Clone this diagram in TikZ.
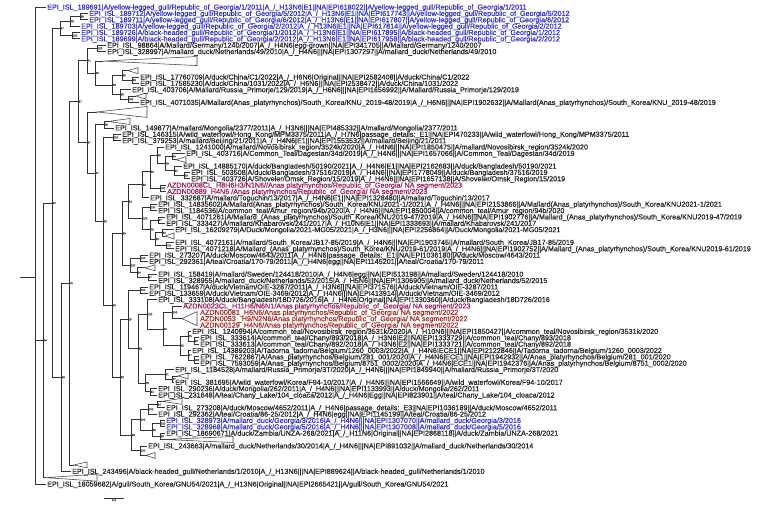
\documentclass[tikz,border=0pt]{standalone}
\usepackage{fontspec}
\newfontfamily\treefont[FakeBold=0.6]{Liberation Sans}
\usepackage{xcolor}
\usetikzlibrary{calc}
\definecolor{gblue}{RGB}{52,52,200}
\definecolor{azmag}{RGB}{160,30,90}
\definecolor{azred}{RGB}{168,44,40}

\begin{document}
\begin{tikzpicture}[x=1pt, y=-6.36pt,
	br/.style={draw=black!80, line width=0.65pt},
	tri/.style={draw=black!75, line width=0.55pt, fill=white},
	leaf/.style={anchor=west, inner xsep=1pt, inner ysep=0pt, text height=5.1pt, text depth=0pt, font=\treefont\fontsize{7.2}{7.2}\selectfont, text=black!85},
	bs/.style={font=\treefont\fontsize{2.8}{3}\selectfont, text=black!70, inner sep=0.4pt}]
	
	\useasboundingbox (0pt,7pt) rectangle (767pt,-499pt);
	
	% Noeuds internes
	\coordinate (stub) at (20,42.47);
	\coordinate (root) at (35,42.47);
	\coordinate[label={[bs]0:24}] (n24) at (43,52.4);
	\coordinate[label={[bs]0:42}] (n42) at (52,30.8);
	\coordinate[label={[bs]0:97}] (nG) at (60,3.375);
	\coordinate[label={[bs]0:79}] (nG1) at (70,2.25);
	\coordinate[label={[bs]0:99}] (nG11) at (80,1.5);
	\coordinate[label={[bs]0:100}] (nG2) at (72,4.5);
	\coordinate[label={[bs]0:33}] (n33) at (61,58.22);
	\coordinate[label={[bs]0:79}] (n79) at (69,43.43);
	\coordinate[label={[bs]0:87}] (n87) at (78,14.87);
	\coordinate[label={[bs]0:71}] (nA) at (87,8.44);
	\coordinate[label={[bs]0:100}] (n100a) at (97,6.5);
	\coordinate[label={[bs]0:90}] (n90) at (95,10.375);
	\coordinate[label={[bs]0:96}] (n96) at (112,12.25);
	\coordinate[label={[bs]0:99}] (n99) at (122,10.75);
	\coordinate[label={[bs]0:96}] (n96b) at (132,11.5);
	\coordinate[label={[bs]0:96}] (n61) at (120,13.75);
	\coordinate[label={[bs]0:100}] (n100b) at (128,14.5);
	\coordinate[label={[bs]0:87}] (nb) at (87,21.3);
	\coordinate[label={[bs]0:97}] (nc) at (95,26.1);
	\coordinate[label={[bs]0:99}] (n99c) at (104,18.5);
	\coordinate[label={[bs]0:93}] (nd) at (103,33.71);
	\coordinate[label={[bs]0:100}] (nC) at (113,20.5);
	\coordinate[label={[bs]0:45}] (nE) at (112,46.91);
	\coordinate[label={[bs]0:99}] (D) at (122,35.61);
	\coordinate[label={[bs]0:90}] (D1) at (128,30.6);
	\coordinate[label={[bs]0:93}] (D2) at (142,27.95);
	\coordinate[label={[bs]0:96}] (n96c) at (150,25.91);
	\coordinate[label={[bs]0:96}] (n96d) at (157,23.31);
	\coordinate[label={[bs]0:76}] (n76) at (165,24.63);
	\coordinate[label={[bs]0:99}] (n59) at (172,23.5);
	\coordinate[label={[bs]0:62}] (n62) at (174,25.75);
	\coordinate[label={[bs]0:63}] (n63) at (184,26.5);
	\coordinate[label={[bs]0:100}] (nAZa) at (160,28.5);
	\coordinate[label={[bs]0:100}] (D3) at (142,33.25);
	\coordinate[label={[bs]0:100}] (D3a) at (150,31.5);
	\coordinate[label={[bs]0:79}] (D4) at (150,35);
	\coordinate[label={[bs]0:97}] (n97) at (158,33.5);
	\coordinate[label={[bs]0:93}] (D5) at (155,36.5);
	\coordinate[label={[bs]0:94}] (D6) at (162,35.5);
	\coordinate[label={[bs]0:100}] (D7) at (166,37.5);
	\coordinate[label={[bs]0:100}] (E) at (130,40.63);
	\coordinate[label={[bs]0:100}] (nE1) at (140,39.5);
	\coordinate[label={[bs]0:94}] (nE2) at (137,41.75);
	\coordinate[label={[bs]0:97}] (nE3) at (148,42.5);
	\coordinate[label={[bs]0:92}] (nF) at (120,58.21);
	\coordinate[label={[bs]0:15}] (G2) at (128,49.11);
	\coordinate[label={[bs]0:100}] (F) at (140,44.5);
	\coordinate[label={[bs]0:93}] (G3) at (138,53.72);
	\coordinate[label={[bs]0:100}] (X100) at (147,48.31);
	\coordinate[label={[bs]0:94}] (n94) at (163,50.63);
	\coordinate[label={[bs]0:100}] (nAZ) at (172,48);
	\coordinate[label={[bs]0:45}] (n45) at (180,53.25);
	\coordinate[label={[bs]0:75}] (n75) at (188,51.75);
	\coordinate[label={[bs]0:60}] (n43) at (194,52.5);
	\coordinate[label={[bs]0:97}] (n45b) at (188,54.75);
	\coordinate[label={[bs]0:100}] (n46) at (194,55.5);
	\coordinate[label={[bs]0:79}] (G5) at (145,59.13);
	\coordinate[label={[bs]0:51}] (n79b) at (165,57.75);
	\coordinate[label={[bs]0:17}] (n17) at (172,58.5);
	\coordinate[label={[bs]0:84}] (nH) at (150,60.5);
	\coordinate[label={[bs]0:83}] (nK) at (131,67.31);
	\coordinate[label={[bs]0:100}] (nI) at (140,64.88);
	\coordinate[label={[bs]0:100}] (nI1) at (148,63.25);
	\coordinate[label={[bs]0:94}] (n94i) at (157,62.5);
	\coordinate[label={[bs]0:96}] (nI2) at (152,66.5);
	\coordinate[label={[bs]0:100}] (nI2a) at (160,65.5);
	\coordinate[label={[bs]0:96}] (n56) at (160,67.5);
	\coordinate[label={[bs]0:100}] (nJ) at (140,69.75);
	
	% Clades replies
	\foreach \nm/\ax/\k/\rx/\h in {T1/103/8.5/197/4.5, T2/128/10/138/3, T3/136/14/146/3,
		T4/97/16.5/147/5.5, T5/108/18/130/3, T17/176/24/186/3, T28/165/36/174/3,
		T31/145/41/155/3, TAZ/182/49/197/7, T48/178/58/188/3, T51/162/62/182/3,
		T56/164/68/233/3, T57/146/70.5/155/3, Tq/74/72/87/3, Tg/46/74/97/3.5} {
		\coordinate (\nm) at (\ax,\k);
		\draw[tri] (\nm) -- ([yshift=\h pt]\rx,\k) -- ([yshift=-\h pt]\rx,\k) -- cycle;
	}
	
	% Feuilles
	\node[leaf, text=gblue] (l1) at (46,0) {EPI\_ISL\_189691|A/yellow-legged\_gull/Republic\_of\_Georgia/1/2011|A\_/\_H13N6|E1||NA|EPI618022||A/yellow-legged\_gull/Republic\_of\_Georgia/1/2011};
	\node[leaf, text=gblue] (l2) at (88,1) {EPI\_ISL\_189712|A/yellow-legged\_gull/Republic\_of\_Georgia/5/2012|A\_/\_H13N6|E1||NA|EPI617743||A/yellow-legged\_gull/Republic\_of\_Georgia/5/2012};
	\node[leaf, text=gblue] (l3) at (88,2) {EPI\_ISL\_189711|A/yellow-legged\_gull/Republic\_of\_Georgia/6/2012|A\_/\_H13N6|E1||NA|EPI617807||A/yellow-legged\_gull/Republic\_of\_Georgia/6/2012};
	\node[leaf, text=gblue] (l4) at (80,3) {EPI\_ISL\_189703|A/yellow-legged\_gull/Republic\_of\_Georgia/2/2012|A\_/\_H13N6|E1||NA|EPI617814||A/yellow-legged\_gull/Republic\_of\_Georgia/2/2012};
	\node[leaf, text=gblue] (l5) at (80,4) {EPI\_ISL\_189726|A/black-headed\_gull/Republic\_of\_Georgia/1/2012|A\_/\_H13N6|E1||NA|EPI617895||A/black-headed\_gull/Republic\_of\_Georgia/1/2012};
	\node[leaf, text=gblue] (l6) at (80,5) {EPI\_ISL\_189699|A/black-headed\_gull/Republic\_of\_Georgia/2/2012|A\_/\_H13N6|E1||NA|EPI617958||A/black-headed\_gull/Republic\_of\_Georgia/2/2012};
	\node[leaf] (l7) at (106,6) {EPI\_ISL\_98864|A/Mallard/Germany/1240/2007|A\_/\_H4N6|egg-grown||NA|EPI341705||A/Mallard/Germany/1240/2007};
	\node[leaf] (l8) at (106,7) {EPI\_ISL\_328997|A/mallard\_duck/Netherlands/49/2010|A\_/\_H4N6|||NA|EPI1307297||A/mallard\_duck/Netherlands/49/2010};
	\node[leaf] (l9) at (139,11) {EPI\_ISL\_17760709|A/duck/China/C1/2022|A\_/\_H6N6|Original||NA|EPI2582408||A/duck/China/C1/2022};
	\node[leaf] (l10) at (139,12) {EPI\_ISL\_17585230|A/duck/China/1031/2022|A\_/\_H6N6|||NA|EPI2538472||A/duck/China/1031/2022};
	\node[leaf] (l11) at (131,13) {EPI\_ISL\_403706|A/Mallard/Russia\_Primorje/129/2019|A\_/\_H6N6|||NA|EPI1656992||A/Mallard/Russia\_Primorje/129/2019};
	\node[leaf] (l12) at (139,15) {EPI\_ISL\_4071035|A/Mallard(Anas\_platyrhynchos)/South\_Korea/KNU\_2019-48/2019|A\_/\_H6N6|||NA|EPI1902632||A/Mallard(Anas\_platyrhynchos)/South\_Korea/KNU\_2019-48/2019};
	\node[leaf] (l13) at (114,19) {EPI\_ISL\_149877|A/mallard/Mongolia/2377/2011|A\_/\_H3N6|||NA|EPI485332||A/mallard/Mongolia/2377/2011};
	\node[leaf] (l14) at (121,20) {EPI\_ISL\_146315|A/wild\_waterfowl/Hong\_Kong/MPM3375/2011|A\_/\_H7N6|passage\_details:\_E1||NA|EPI470233||A/wild\_waterfowl/Hong\_Kong/MPM3375/2011};
	\node[leaf] (l15) at (121,21) {EPI\_ISL\_379253|A/mallard/Beijing/21/2011|A\_/\_H4N6|E1||NA|EPI1553532||A/mallard/Beijing/21/2011};
	\node[leaf] (l16) at (164,22) {EPI\_ISL\_1241000|A/mallard/Novosibirsk\_region/3524k/2020|A\_/\_H4N6|||NA|EPI1850475||A/mallard/Novosibirsk\_region/3524k/2020};
	\node[leaf] (l17) at (185,23) {EPI\_ISL\_403716|A/Common\_Teal/Dagestan/34d/2019|A\_/\_H4N6|||NA|EPI1657066||A/Common\_Teal/Dagestan/34d/2019};
	\node[leaf] (l18) at (182,25) {EPI\_ISL\_14885170|A/duck/Bangladesh/50190/2021|A\_/\_H4N6|E1||NA|EPI2162683||A/duck/Bangladesh/50190/2021};
	\node[leaf] (l19) at (190,26) {EPI\_ISL\_503508|A/duck/Bangladesh/37516/2019|A\_/\_H4N6|||NA|EPI1778049||A/duck/Bangladesh/37516/2019};
	\node[leaf] (l20) at (190,27) {EPI\_ISL\_403726|A/Shoveler/Omsk\_Region/15/2019|A\_/\_H4N6|||NA|EPI1657138||A/Shoveler/Omsk\_Region/15/2019};
	\node[leaf, text=azmag] (l21) at (166,28) {AZDN0008CL\_H8H6H3/N1N6//Anas platyrhynchos/Republic\_of\_Georgia/ NA segment/2023};
	\node[leaf, text=azmag] (l22) at (166,29) {AZDN00889\_H4N6 /Anas platyrhynchos/Republic\_of\_Georgia/ NA segment/2023};
	\node[leaf] (l23) at (149,30) {EPI\_ISL\_332687|A/mallard/Toguchin/13/2017|A\_/\_H4N6|E1||NA|EPI1328480||A/mallard/Toguchin/13/2017};
	\node[leaf] (l24) at (157,31) {EPI\_ISL\_14835602|A/Mallard(Anas\_platyrhynchos)/South\_Korea/KNU2021-1/2021|A\_/\_H4N6|||NA|EPI2153866||A/Mallard(Anas\_platyrhynchos)/South\_Korea/KNU2021-1/2021};
	\node[leaf] (l25) at (157,32) {EPI\_ISL\_1184536|A/common\_teal/Amur\_region/94b/2020|A\_/\_H4N6|||NA|EPI1850004||A/common\_teal/Amur\_region/94b/2020};
	\node[leaf] (l26) at (165,33) {EPI\_ISL\_4071261|A/Mallard\_(Anas\_platyrhynchos)/South\_Korea/KNU2019-47/2019|A\_/\_H4N6|||NA|EPI1902776||A/Mallard\_(Anas\_platyrhynchos)/South\_Korea/KNU2019-47/2019};
	\node[leaf] (l27) at (165,34) {EPI\_ISL\_333427|A/mallard/Khabarovsk/241/2017|A\_/\_H10N6|E1||NA|EPI1333693||A/mallard/Khabarovsk/241/2017};
	\node[leaf] (l28) at (174,35) {EPI\_ISL\_16209279|A/Duck/Mongolia/2021-MG05/2021|A\_/\_H3N6|||NA|EPI2256864||A/Duck/Mongolia/2021-MG05/2021};
	\node[leaf] (l29) at (174,37) {EPI\_ISL\_4072161|A/mallard/South\_Korea/JB17-85/2019|A\_/\_H4N6|||NA|EPI1903745||A/mallard/South\_Korea/JB17-85/2019};
	\node[leaf] (l30) at (174,38) {EPI\_ISL\_4071218|A/Mallard\_(Anas\_platyrhynchos)/South\_Korea/KNU2019-61/2019|A\_/\_H4N6|||NA|EPI1902752||A/Mallard\_(Anas\_platyrhynchos)/South\_Korea/KNU2019-61/2019};
	\node[leaf] (l31) at (148,39) {EPI\_ISL\_273207|A/duck/Moscow/4643/2011|A\_/\_H4N6|passage\_details:\_E1||NA|EPI1036180||A/duck/Moscow/4643/2011};
	\node[leaf] (l32) at (148,40) {EPI\_ISL\_292361|A/teal/Croatia/170-79/2011|A\_/\_H4N6|egg||NA|EPI1145201||A/teal/Croatia/170-79/2011};
	\node[leaf] (l33) at (157,42) {EPI\_ISL\_158419|A/mallard/Sweden/124418/2010|A\_/\_H4N6|egg||NA|EPI513198||A/mallard/Sweden/124418/2010};
	\node[leaf] (l34) at (157,43) {EPI\_ISL\_328955|A/mallard\_duck/Netherlands/52/2015|A\_/\_H5N6|||NA|EPI1306905||A/mallard\_duck/Netherlands/52/2015};
	\node[leaf] (l35) at (148,44) {EPI\_ISL\_119467|A/duck/Vietnam/OIE-3287/2011|A\_/\_H3N6|||NA|EPI371576||A/duck/Vietnam/OIE-3287/2011};
	\node[leaf] (l36) at (148,45) {EPI\_ISL\_133659|A/duck/Vietnam/OIE-3469/2012|A\_/\_H4N6|||NA|EPI413914||A/duck/Vietnam/OIE-3469/2012};
	\node[leaf] (l37) at (157,46) {EPI\_ISL\_333108|A/duck/Bangladesh/18D726/2016|A\_/\_H4N6|Original||NA|EPI1330360||A/duck/Bangladesh/18D726/2016};
	\node[leaf, text=azmag] (l38) at (182,47) {AZDN0023CL\_H11H6/N6N1/Anas platyrhynchos/Republic\_of\_Georgia/ NA segment/2023};
	\node[leaf, text=azred] (l39) at (199,48) {AZDN00081\_H6N6/Anas platyrhynchos/Republic\_of\_Georgia/ NA segment/2022};
	\node[leaf, text=azred] (l40) at (199,49) {AZDN0053 \_H9/N2N6/Anas platyrhynchos/Republic\_of\_Georgia/ NA segment/2022};
	\node[leaf, text=azred] (l41) at (199,50) {AZDN00129\_H4N6/Anas platyrhynchos/Republic\_of\_Georgia/ NA segment/2022};
	\node[leaf] (l42) at (191,51) {EPI\_ISL\_1240994|A/common\_teal/Novosibirsk\_region/3531k/2020|A\_/\_H10N6|||NA|EPI1850427||A/common\_teal/Novosibirsk\_region/3531k/2020};
	\node[leaf] (l43) at (199,52) {EPI\_ISL\_333614|A/common\_teal/Chany/893/2018|A\_/\_H3N6|E2||NA|EPI1333729||A/common\_teal/Chany/893/2018};
	\node[leaf] (l44) at (199,53) {EPI\_ISL\_333613|A/common\_teal/Chany/892/2018|A\_/\_H3N6|E2||NA|EPI1333721||A/common\_teal/Chany/892/2018};
	\node[leaf] (l45) at (191,54) {EPI\_ISL\_14389203|A/Tadorna\_tadorna/Belgium/1260\_0003/2022|A\_/\_H4N6|ECE1||NA|EPI2122846||A/Tadorna\_tadorna/Belgium/1260\_0003/2022};
	\node[leaf] (l46) at (199,55) {EPI\_ISL\_7622867|A/Anas\_platyrhynchos/Belgium/281\_001/2020|A\_/\_H4N6|ECE1||NA|EPI1942932||A/Anas\_platyrhynchos/Belgium/281\_001/2020};
	\node[leaf] (l47) at (199,56) {EPI\_ISL\_7593059|A/Anas\_platyrhynchos/Belgium/8751\_0002/2020|A\_/\_H4N6|ECE1||NA|EPI1942376||A/Anas\_platyrhynchos/Belgium/8751\_0002/2020};
	\node[leaf] (l48) at (174,57) {EPI\_ISL\_1184528|A/mallard/Russia\_Primorje/3T/2020|A\_/\_H4N6|||NA|EPI1849940||A/mallard/Russia\_Primorje/3T/2020};
	\node[leaf] (l49) at (174,59) {EPI\_ISL\_381695|A/wild\_waterfowl/Korea/F94-10/2017|A\_/\_H4N6|||NA|EPI1566649||A/wild\_waterfowl/Korea/F94-10/2017};
	\node[leaf] (l50) at (157,60) {EPI\_ISL\_290236|A/duck/Mongolia/262/2011|A\_/\_H4N6|||NA|EPI1133993||A/duck/Mongolia/262/2011};
	\node[leaf] (l51) at (157,61) {EPI\_ISL\_231648|A/teal/Chany\_Lake/104\_cloaca/2012|A\_/\_H4N6|Egg||NA|EPI823901||A/teal/Chany\_Lake/104\_cloaca/2012};
	\node[leaf] (l52) at (165,63) {EPI\_ISL\_273208|A/duck/Moscow/4652/2011|A\_/\_H4N6|passage\_details:\_E3||NA|EPI1036189||A/duck/Moscow/4652/2011};
	\node[leaf] (l53) at (157,64) {EPI\_ISL\_292362|A/teal/Croatia/86-25/2012|A\_/\_H4N6|egg||NA|EPI1145199||A/teal/Croatia/86-25/2012};
	\node[leaf, text=gblue] (l54) at (165,65) {EPI\_ISL\_328973|A/mallard\_duck/Georgia/3/2016|A\_/\_H4N6|||NA|EPI1307070||A/mallard\_duck/Georgia/3/2016};
	\node[leaf, text=gblue] (l55) at (165,66) {EPI\_ISL\_328968|A/mallard\_duck/Georgia/5/2016|A\_/\_H4N6|||NA|EPI1307008||A/mallard\_duck/Georgia/5/2016};
	\node[leaf] (l56) at (165,67) {EPI\_ISL\_18690671|A/duck/Zambia/UNZA-268/2021|A\_/\_H11N6|Original||NA|EPI2868118||A/duck/Zambia/UNZA-268/2021};
	\node[leaf] (l57) at (147,69) {EPI\_ISL\_243663|A/mallard\_duck/Netherlands/30/2014|A\_/\_H4N6|||NA|EPI891032||A/mallard\_duck/Netherlands/30/2014};
	\node[leaf] (l58) at (71,73) {EPI\_ISL\_243496|A/black-headed\_gull/Netherlands/1/2010|A\_/\_H13N6|||NA|EPI889624||A/black-headed\_gull/Netherlands/1/2010};
	\node[leaf] (l59) at (46,75) {EPI\_ISL\_18059682|A/gull/South\_Korea/GNU54/2021|A\_/\_H13N6|Original||NA|EPI2665421||A/gull/South\_Korea/GNU54/2021};
	
	% Branches
	\draw[br] (stub) -- (root);
	\draw[br] (root) |- (l1.west) (root) |- (n24) (root) |- (l59.west);
	\draw[br] (n24) |- (n42) (n24) |- (Tg) (n42) |- (nG) (n42) |- (n33);
	\draw[br] (nG) |- (nG1) (nG) |- (nG2) (nG1) |- (nG11) (nG1) |- (l4.west)
		(nG11) |- (l2.west) (nG11) |- (l3.west) (nG2) |- (l5.west) (nG2) |- (l6.west);
	\draw[br] (n33) |- (n79) (n33) |- (l58.west) (n79) |- (n87) (n79) |- (Tq);
	\draw[br] (n87) |- (nA) (n87) |- (nb);
	\draw[br] (nA) |- (n100a) (nA) |- (n90) (n100a) |- (l7.west) (n100a) |- (l8.west)
		(n90) |- (T1) (n90) |- (n96) (n96) |- (n99) (n96) |- (n61)
		(n99) |- (T2) (n99) |- (n96b) (n96b) |- (l9.west) (n96b) |- (l10.west)
		(n61) |- (l11.west) (n61) |- (n100b) (n100b) |- (T3) (n100b) |- (l12.west);
	\draw[br] (nb) |- (T4) (nb) |- (nc) (nc) |- (n99c) (nc) |- (nd)
		(n99c) |- (T5) (n99c) |- (l13.west) (nd) |- (nC) (nd) |- (nE)
		(nC) |- (l14.west) (nC) |- (l15.west);
	\draw[br] (nE) |- (D) (nE) |- (nF);
	\draw[br] (D) |- (D1) (D) |- (E) (D1) |- (D2) (D1) |- (D3)
		(D2) |- (n96c) (D2) |- (l23.west) (n96c) |- (n96d) (n96c) |- (nAZa)
		(n96d) |- (l16.west) (n96d) |- (n76) (n76) |- (n59) (n76) |- (n62)
		(n59) |- (l17.west) (n59) |- (T17) (n62) |- (l18.west) (n62) |- (n63)
		(n63) |- (l19.west) (n63) |- (l20.west) (nAZa) |- (l21.west) (nAZa) |- (l22.west);
	\draw[br] (D3) |- (D3a) (D3) |- (D4) (D3a) |- (l24.west) (D3a) |- (l25.west)
		(D4) |- (n97) (D4) |- (D5) (n97) |- (l26.west) (n97) |- (l27.west)
		(D5) |- (D6) (D5) |- (D7) (D6) |- (l28.west) (D6) |- (T28)
		(D7) |- (l29.west) (D7) |- (l30.west);
	\draw[br] (E) |- (nE1) (E) |- (nE2) (nE1) |- (l31.west) (nE1) |- (l32.west)
		(nE2) |- (T31) (nE2) |- (nE3) (nE3) |- (l33.west) (nE3) |- (l34.west);
	\draw[br] (nF) |- (G2) (nF) |- (nK) (G2) |- (F) (G2) |- (G3)
		(F) |- (l35.west) (F) |- (l36.west) (G3) |- (X100) (G3) |- (G5);
	\draw[br] (X100) |- (l37.west) (X100) |- (n94) (n94) |- (nAZ) (n94) |- (n45)
		(nAZ) |- (l38.west) (nAZ) |- (TAZ) (n45) |- (n75) (n45) |- (n45b)
		(n75) |- (l42.west) (n75) |- (n43) (n43) |- (l43.west) (n43) |- (l44.west)
		(n45b) |- (l45.west) (n45b) |- (n46) (n46) |- (l46.west) (n46) |- (l47.west);
	\draw[br] (G5) |- (n79b) (G5) |- (nH) (n79b) |- (l48.west) (n79b) |- (n17)
		(n17) |- (T48) (n17) |- (l49.west) (nH) |- (l50.west) (nH) |- (l51.west);
	\draw[br] (nK) |- (nI) (nK) |- (nJ) (nI) |- (nI1) (nI) |- (nI2)
		(nI1) |- (n94i) (nI1) |- (l53.west) (n94i) |- (T51) (n94i) |- (l52.west)
		(nI2) |- (nI2a) (nI2) |- (n56) (nI2a) |- (l54.west) (nI2a) |- (l55.west)
		(n56) |- (l56.west) (n56) |- (T56) (nJ) |- (l57.west) (nJ) |- (T57);
	
	% Echelle
	\coordinate (sb1) at (104,77.2);
	\coordinate (sb2) at (124,77.2);
	\draw[br] (sb1) -- (sb2);
	\node[bs, below=0.6pt] (sblab) at ($(sb1)!0.5!(sb2)$) {3.0};
	
\end{tikzpicture}
\end{document}
